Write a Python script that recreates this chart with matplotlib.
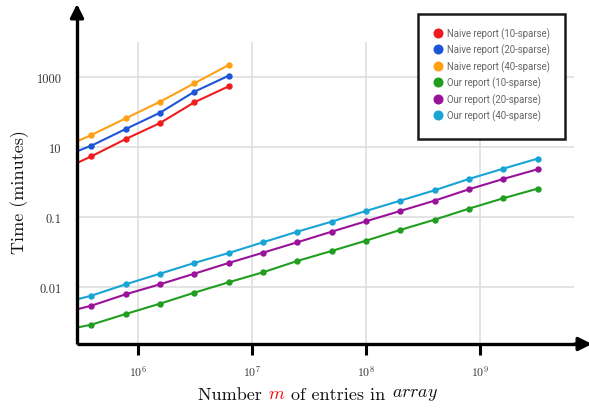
import matplotlib
matplotlib.use("Agg")
import matplotlib.pyplot as plt
from matplotlib.lines import Line2D
from matplotlib.patches import Rectangle

plt.rcParams['mathtext.fontset'] = 'cm'
plt.rcParams['axes.formatter.use_mathtext'] = True

# ---------------- data ----------------
naive_m = [195312.5, 390625, 781250, 1562500, 3125000, 6250000]
naive_10 = [1.91, 5.42, 16.9, 48.5, 189.2, 542.0]
naive_20 = [4.57, 10.9, 32.7, 95.5, 380.2, 1089.0]
naive_40 = [8.2, 22.0, 66.1, 196.8, 660.7, 2203.0]

our_m = [195312.5, 390625, 781250, 1562500, 3125000, 6250000, 12500000,
         25000000, 50000000, 100000000, 200000000, 400000000, 800000000,
         1600000000, 3200000000]
our_10 = [5.32e-5, 8.37e-5, 1.694e-4, 3.334e-4, 6.87e-4, 1.361e-3, 2.63e-3,
          5.53e-3, 1.069e-2, 2.104e-2, 4.26e-2, 8.37e-2, 0.1726, 0.342, 0.644]
our_20 = [1.648e-4, 2.924e-4, 6.18e-4, 1.194e-3, 2.399e-3, 4.853e-3, 9.55e-3,
          1.892e-2, 3.80e-2, 7.53e-2, 0.1483, 0.2924, 0.618, 1.219, 2.307]
our_40 = [3.184e-4, 5.64e-4, 1.194e-3, 2.399e-3, 4.853e-3, 9.35e-3, 1.892e-2,
          3.80e-2, 7.35e-2, 0.1483, 0.2924, 0.5794, 1.219, 2.399, 4.634]

series_labels = ["Naive report (10-sparse)", "Naive report (20-sparse)",
                 "Naive report (40-sparse)", "Our report (10-sparse)",
                 "Our report (20-sparse)", "Our report (40-sparse)"]
series_colors = ["#f01c1c", "#1d55d8", "#ffa014", "#209e20", "#9a119a", "#18a4d4"]

x_ticks = [1e6, 1e7, 1e8, 1e9]
x_tick_labels = [r"$10^{6}$", r"$10^{7}$", r"$10^{8}$", r"$10^{9}$"]
y_ticks = [1e3, 1e1, 1e-1, 1e-3]
y_tick_labels = ["1000", "10", "0.1", "0.01"]

# ---------------- figure ----------------
W, H = 589, 410
fig = plt.figure(figsize=(W / 100, H / 100), dpi=100)
L, R, T, B = 77, 574, 43, 345
ax = fig.add_axes([L / W, (H - B) / H, (R - L) / W, (B - T) / H])
ax.set_xscale('log')
ax.set_yscale('log')
ax.set_xlim(10 ** 5.465, 10 ** 9.825)
ax.set_ylim(10 ** -4.63, 10 ** 4.0)

data = [(naive_m, naive_10), (naive_m, naive_20), (naive_m, naive_40),
        (our_m, our_10), (our_m, our_20), (our_m, our_40)]
for (xs, ys), c in zip(data, series_colors):
    ax.plot(xs, ys, color=c, lw=1.5, marker='o', markersize=3.6, zorder=3)

ax.set_xticks(x_ticks)
ax.set_xticklabels(x_tick_labels)
ax.set_yticks(y_ticks)
ax.set_yticklabels(y_tick_labels)
ax.xaxis.set_minor_locator(matplotlib.ticker.NullLocator())
ax.yaxis.set_minor_locator(matplotlib.ticker.NullLocator())
ax.tick_params(axis='x', length=8, width=2.2, color='black', labelsize=8.5,
               labelcolor='#333333', pad=6)
ax.tick_params(axis='y', length=0, labelsize=9, labelcolor='#333333', pad=11)
for lab in ax.get_yticklabels():
    lab.set_family('cmr10')

ax.grid(True, color='#dcdcdc', lw=1.1, zorder=0)
ax.set_axisbelow(True)
for s in ['top', 'right', 'left', 'bottom']:
    ax.spines[s].set_visible(False)

# axis arrows (figure-pixel coordinates, origin top-left -> converted)
def fp(x, y):
    return (x / W, (H - y) / H)

fig.add_artist(Line2D([L / W, L / W], [(H - B) / H, (H - 16) / H],
                      color='black', lw=2.4, transform=fig.transFigure,
                      solid_capstyle='butt'))
fig.add_artist(Line2D([L / W, 580 / W], [(H - B) / H, (H - B) / H],
                      color='black', lw=2.4, transform=fig.transFigure,
                      solid_capstyle='butt'))
ax.annotate('', xy=fp(L, 5), xytext=fp(L, 20), xycoords='figure fraction',
            textcoords='figure fraction',
            arrowprops=dict(arrowstyle='-|>,head_length=0.8,head_width=0.4',
                            color='black', lw=2.4, shrinkA=0, shrinkB=0),
            annotation_clip=False)
ax.annotate('', xy=fp(592, B), xytext=fp(575, B), xycoords='figure fraction',
            textcoords='figure fraction',
            arrowprops=dict(arrowstyle='-|>,head_length=0.8,head_width=0.4',
                            color='black', lw=2.4, shrinkA=0, shrinkB=0),
            annotation_clip=False)

# axis labels
fig.text(20 / W, (H - 192) / H, "Time (minutes)", rotation=90, family='cmr10',
         fontsize=13, ha='center', va='center', color='#111111')
t1 = fig.text(198 / W, 10 / H, "Number ", family='cmr10', fontsize=13,
              va='baseline', ha='left', color='#111111')
t2 = ax.annotate(r"$m$", xy=(1, 0), xycoords=t1, va='bottom', ha='left',
                 fontsize=13, color='red', annotation_clip=False)
t3 = ax.annotate(" of entries in ", xy=(1, 0), xycoords=t2, va='bottom',
                 ha='left', fontsize=13, family='cmr10', color='#111111',
                 annotation_clip=False)
t4 = ax.annotate(r"$array$", xy=(1, 0), xycoords=t3, va='bottom', ha='left',
                 fontsize=13, color='#111111', annotation_clip=False)

# legend box
fig.add_artist(Rectangle(fp(418, 140), 147 / W, 125 / H,
                         transform=fig.transFigure, facecolor='white',
                         edgecolor='#1a1a1a', lw=1.8, zorder=4))
handles = [Line2D([], [], marker='o', linestyle='none', markersize=6.2,
                  color=c) for c in series_colors]
leg = fig.legend(handles, series_labels, loc='upper left',
                 bbox_to_anchor=fp(433, 28), frameon=False,
                 prop={'family': 'Roboto', 'size': 6.9}, labelcolor='#666666',
                 handletextpad=0.45, labelspacing=0.52, handlelength=1.0,
                 borderpad=0, borderaxespad=0)
leg.set_zorder(5)

fig.savefig("out.png", dpi=100)
